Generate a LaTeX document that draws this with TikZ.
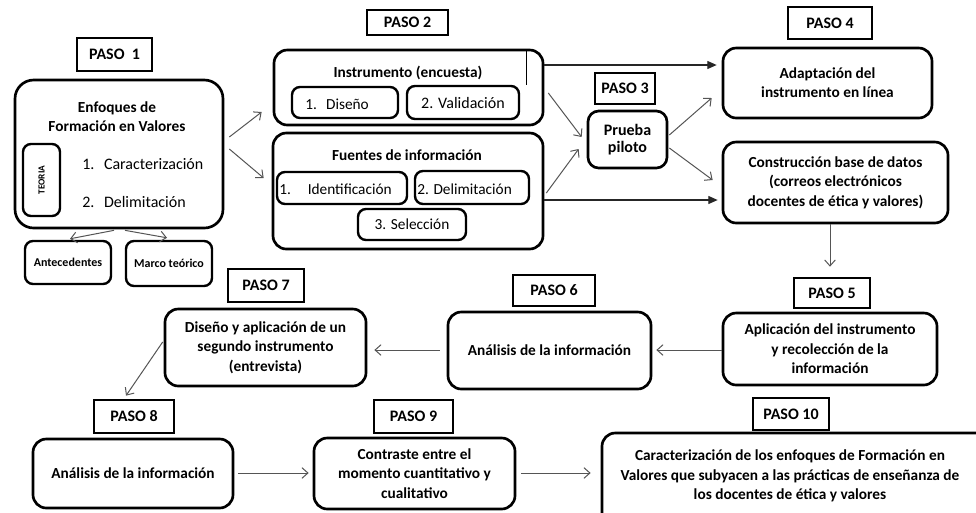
\documentclass[tikz,border=0pt]{standalone}
\usepackage{fontspec}
\setmainfont{Carlito}
\usetikzlibrary{arrows.meta,calc}
\definecolor{arrgray}{HTML}{555555}
\begin{document}
\begin{tikzpicture}[x=0.75pt,y=-0.75pt,
  bx/.style args={#1/#2/#3/#4}{at={({(#1+#3)/2},{(#2+#4)/2})},
     minimum width={(#3-#1)*0.75pt}, minimum height={(#4-#2)*0.75pt}},
  hd/.style={font=\bfseries\fontsize{11.5}{14.5}\selectfont},
  it/.style={font=\fontsize{11.5}{13}\selectfont},
  pbox/.style={draw, line width=2pt, inner sep=0pt, font=\bfseries\fontsize{12}{14}\selectfont},
  rbox/.style={draw, line width=2pt, rounded corners=10pt, inner sep=0pt, align=center, hd},
  sbox/.style={draw, line width=1.8pt, rounded corners=6pt, inner sep=0pt, it},
  txt/.style={inner sep=0pt, align=center, hd},
  arr/.style={draw=arrgray, line width=0.75pt, -{Straight Barb[length=4.5pt,width=8pt]}},
  farr/.style={draw=black!85, line width=0.8pt, -{Triangle[length=7pt,width=6pt]}}
]
\useasboundingbox (0,0) rectangle (976,512);
\clip (0,0) rectangle (976,512);
\fill[white] (0,0) rectangle (976,512);

% PASO labels
\node[pbox, bx=77/38/152/71] (p1) {PASO\hspace{0.45em}1};
\node[pbox, bx=367/10/448/35] (p2) {PASO 2};
\node[pbox, bx=595/73/655/104] (p3) {PASO 3};
\node[pbox, bx=788/7/872/39] (p4) {PASO 4};
\node[pbox, bx=794/278/870/308] (p5) {PASO 5};
\node[pbox, bx=513/275/595/306] (p6) {PASO 6};
\node[pbox, bx=228/269/304/302] (p7) {PASO 7};
\node[pbox, bx=94/400/174/433] (p8) {PASO 8};
\node[pbox, bx=374/400/453/433] (p9) {PASO 9};
\node[pbox, bx=753/398/829/430] (p10) {PASO 10};

% Paso 1
\node[rbox, rounded corners=14pt, bx=15/80/223/228] (e1) {};
\node[txt] (e1t) at (117,117) {Enfoques de\\Formación en Valores};
\node[sbox, bx=23/144/60/216] (teo) {};
\node[txt, rotate=90, font=\bfseries\fontsize{7}{8}\selectfont] (teot) at (teo.center) {TEORIA};
\node[anchor=west, inner sep=0pt, font=\fontsize{12}{13}\selectfont] (c1) at (82,164) {1.\hspace{0.6em}Caracterización};
\node[anchor=west, inner sep=0pt, font=\fontsize{12}{13}\selectfont] (c2) at (82,202) {2.\hspace{0.6em}Delimitación};
\node[sbox, bx=25/241/111/284, font=\bfseries\fontsize{9}{10}\selectfont] (ant) {Antecedentes};
\node[sbox, bx=126/241/212/286, font=\bfseries\fontsize{9}{10}\selectfont] (mar) {Marco teórico};

% Paso 2
\node[rbox, bx=274/50/543/125] (ins) {};
\node[txt] (inst) at (408,73) {Instrumento (encuesta)};
\draw[line width=0.6pt] (526,51) -- (526,85);
\node[sbox, bx=292/87/398/118] (dis) {};
\node[it, anchor=west, inner sep=0pt] (dist) at (305,104) {1.\hspace{0.6em}Diseño};
\node[sbox, bx=407/86/519/119, font=\fontsize{12}{13}\selectfont] (val) {2. Validación\hspace{0.6em}};
\node[rbox, bx=273/133/543/249] (fue) {};
\node[txt] (fuet) at (407,155) {Fuentes de información};
\node[sbox, bx=277/172/407/204] (ide) {};
\node[it, anchor=west, inner sep=0pt] (idet) at (279,189) {1.\hspace{1.1em}Identificación};
\node[sbox, bx=415/171/529/204] (del) {};
\node[it, anchor=west, inner sep=0pt] (delt) at (417,189) {2. Delimitación};
\node[sbox, bx=358/209/466/240] (sel) {3. Selección};

% Paso 3, 4
\node[rbox, rounded corners=8pt, bx=588/111/667/168, font=\bfseries\fontsize{12}{13}\selectfont] (pru) {Prueba\\piloto};
\node[rbox, bx=723/48/932/118] (ada) {Adaptación del\\instrumento en línea};
\node[rbox, bx=723/142/948/223] (con) {Construcción base de datos\\(correos electrónicos\\docentes de ética y valores)};

% Paso 5-7
\node[rbox, bx=723/313/937/385] (apl) {Aplicación del instrumento\\y recolección de la\\información};
\node[rbox, bx=448/312/651/389] (an6) {Análisis de la información};
\node[rbox, bx=165/309/366/386] (d7) {Diseño y aplicación de un\\segundo instrumento\\(entrevista)};

% Paso 8-10
\node[rbox, bx=33/439/233/508] (an8) {Análisis de la información};
\node[rbox, bx=314/438/515/509] (ctr) {Contraste entre el\\momento cuantitativo y\\cualitativo};
\node[rbox, bx=602/433/1010/530] (car) {};
\node[txt] (cart) at (790,476) {Caracterización de los enfoques de Formación en\\Valores que subyacen a las prácticas de enseñanza de\\los docentes de ética y valores};

% connectors
\draw[arr] ($(e1.east)+(5,-17)$) -- ($(ins.west)+(-11,24.5)$);
\draw[arr] ($(e1.east)+(5,-5)$) -- ($(fue.west)+(-8,-13)$);
\draw[arr] ($(e1.south)+(-5,1)$) -- ($(ant.north)+(2,-1)$);
\draw[arr] ($(e1.south)+(6,1)$) -- ($(mar.north)+(-2,-2)$);
\draw[farr] ($(ins.east)+(0,-22.5)$) -- ($(ada.west)+(-5,-18)$);
\draw[farr] ($(fue.east)+(0,9)$) -- ($(con.west)+(-4,17.5)$);
\draw[arr] ($(ins.east)+(4,5.5)$) -- ($(pru.west)+(-5,-2.5)$);
\draw[arr] ($(fue.east)+(2,2)$) -- ($(pru.west)+(-8,9.5)$);
\draw[arr] ($(pru.east)+(1,-4.5)$) -- ($(ada.west)+(-10,15)$);
\draw[arr] ($(pru.east)+(1,8.5)$) -- ($(con.west)+(-9,-2.5)$);
\draw[arr] ($(con.south)+(-5.5,0)$) -- ($(p5.north)+(-2,-10)$);
\draw[arr] ($(apl.west)+(0,1)$) -- ($(an6.east)+(4,-0.5)$);
\draw[arr] ($(an6.west)+(-7,-0.5)$) -- ($(d7.east)+(7,2.5)$);
\draw[arr] ($(d7.west)+(-1,-5.5)$) -- ($(p8.north)+(-8,-3)$);
\draw[arr] ($(an8.east)+(4,-0.5)$) -- ($(ctr.west)+(-4,-0.5)$);
\draw[arr] ($(ctr.east)+(5,-0.5)$) -- ($(car.west)+(-10,-8.5)$);
\end{tikzpicture}
\end{document}
